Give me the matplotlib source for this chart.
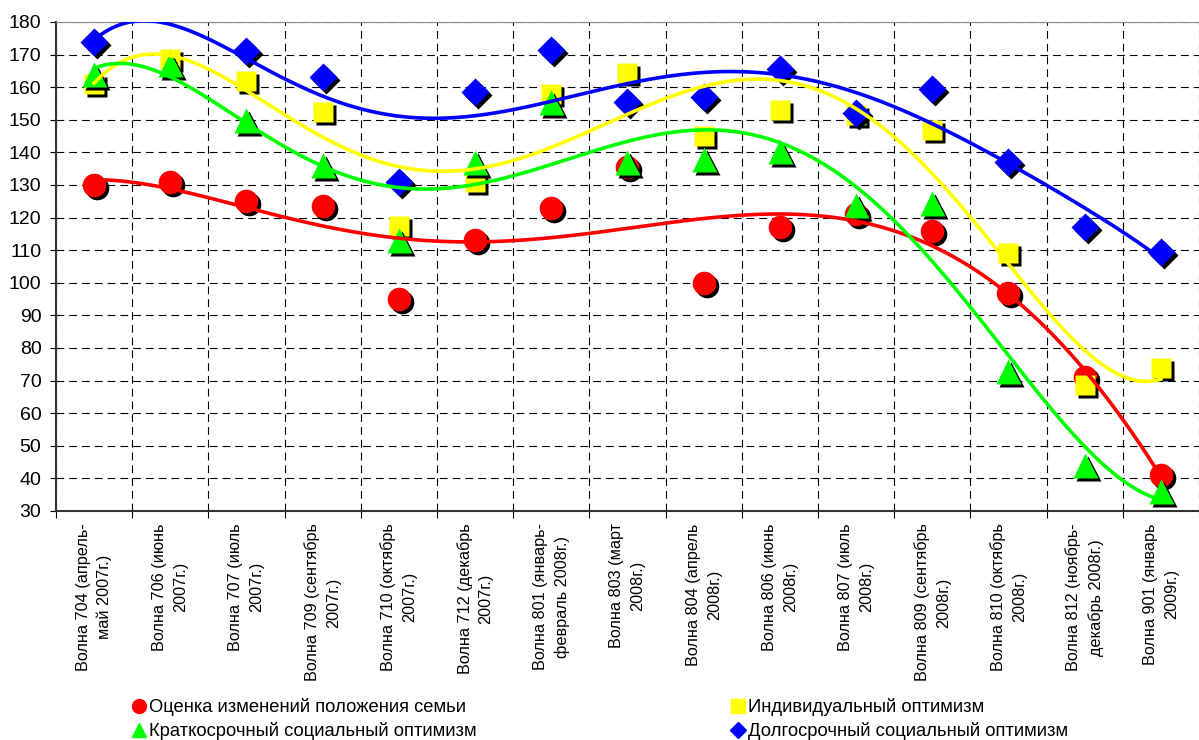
import numpy as np
import matplotlib
matplotlib.use("Agg")
import matplotlib.pyplot as plt
from matplotlib.transforms import offset_copy
from matplotlib.lines import Line2D

plt.rcParams['font.family'] = ['Liberation Sans', 'DejaVu Sans']

# wave labels
waves = ["Волна 704 (апрель-\nмай 2007г.)", "Волна 706 (июнь\n2007г.)",
         "Волна 707 (июль\n2007г.)", "Волна 709 (сентябрь\n2007г.)",
         "Волна 710 (октябрь\n2007г.)", "Волна 712 (декабрь\n2007г.)",
         "Волна 801 (январь-\nфевраль 2008г.)", "Волна 803 (март\n2008г.)",
         "Волна 804 (апрель\n2008г.)", "Волна 806 (июнь\n2008г.)",
         "Волна 807 (июль\n2008г.)", "Волна 809 (сентябрь\n2008г.)",
         "Волна 810 (октябрь\n2008г.)", "Волна 812 (ноябрь-\nдекабрь 2008г.)",
         "Волна 901 (январь\n2009г.)"]

# series values (nan = no point)
family = [130, 131, 125, 123.5, 95, 113, 123, 135.5, 100, 117, 121, 116, 97, 71, 41]
individual = [161, 168.5, 162, 152.5, 117.5, 131, 158, 164.5, 145, 153, 151.5, 147, 109, 68.5, 74]
short_term = [164, 167, 150, 136, 113, 137, 155.5, 137, 138, 140.5, 124, 124.5, 73, 44, 36]
long_term = [174, np.nan, 171, 163, 131, 158.5, 171.5, 155.5, 157, 165.5, 152, 159.5, 137, 117, 109.5]

names = ["Оценка изменений положения семьи", "Индивидуальный оптимизм",
         "Краткосрочный социальный оптимизм", "Долгосрочный социальный оптимизм"]
colors = ["#ff0000", "#ffff00", "#00ff00", "#0000ff"]
markers = ["o", "s", "^", "D"]
msizes = [17, 15, 18, 14]
degrees = [5, 6, 6, 6]  # polynomial trend order per series

fig = plt.figure(figsize=(11.99, 7.4), dpi=100)
ax = fig.add_axes([0.0467, 0.3095, 0.9533, 0.6608])

x = np.arange(1, len(waves) + 1)
shadow = offset_copy(ax.transData, fig=fig, x=3, y=-3, units='dots')

series = [family, individual, short_term, long_term]
for i, vals in enumerate(series):
    vals = np.array(vals, dtype=float)
    ax.plot(x, vals, ls='none', marker=markers[i], ms=msizes[i], color='black',
            mec='none', transform=shadow, zorder=3 + i * 0.1, clip_on=False)
    ax.plot(x, vals, ls='none', marker=markers[i], ms=msizes[i], color=colors[i],
            mec='none', zorder=3.05 + i * 0.1, clip_on=False)

# polynomial trend lines like in excel
xs = np.linspace(1, 15, 300)
for i, vals in enumerate(series):
    vals = np.array(vals, dtype=float)
    ok = ~np.isnan(vals)
    coef = np.polyfit(x[ok], vals[ok], degrees[i])
    ax.plot(xs, np.polyval(coef, xs), color=colors[i], lw=2.6, zorder=4 + i * 0.1)

ax.set_xlim(0.5, 15.5)
ax.set_ylim(30, 180)
ax.set_yticks(np.arange(30, 181, 10))
ax.set_xticks(np.arange(0.5, 15.6, 1))
ax.set_xticklabels([])
ax.set_xticks(x, minor=True)
ax.set_xticklabels(waves, minor=True, rotation=90, fontsize=11.7, linespacing=1.5,
                   ha='center', va='top', multialignment='center')
ax.tick_params(axis='x', which='minor', length=0, pad=9)
ax.tick_params(axis='x', which='major', length=5, direction='out')
ax.tick_params(axis='y', labelsize=14, length=4.5, pad=6)
ax.grid(True, which='major', color='black', ls=(0, (7, 4.5)), lw=0.8)

for s in ['left', 'bottom']:
    ax.spines[s].set_color('#333333')
    ax.spines[s].set_linewidth(1.5)
ax.spines['top'].set_color('#888888')
ax.spines['right'].set_visible(False)

handles = [Line2D([], [], ls='none', marker=markers[i], color=colors[i], ms=10 if i != 3 else 8)
           for i in range(4)]
order = [0, 2, 1, 3]
fig.legend([handles[k] for k in order], [names[k] for k in order],
           loc='upper left', bbox_to_anchor=(0.104, 0.069), ncol=2,
           frameon=False, fontsize=13.2, handlelength=0.6, handletextpad=0.25,
           columnspacing=13.95, labelspacing=0.33, borderpad=0)

fig.savefig("out.png", dpi=100)
